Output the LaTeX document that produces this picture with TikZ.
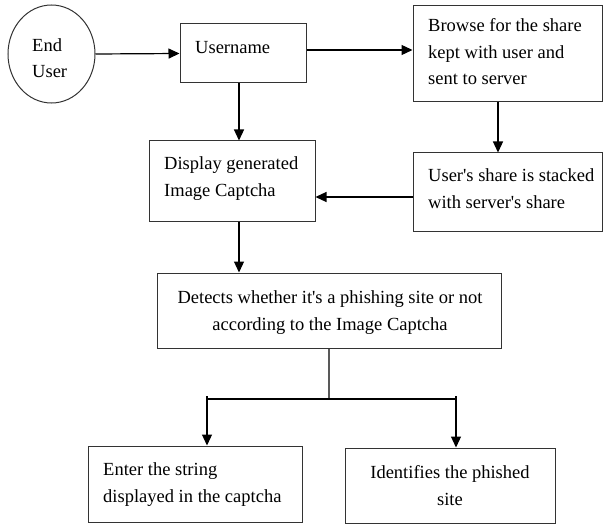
\documentclass[tikz,border=0pt]{standalone}
\usepackage{fontspec}
\setmainfont{Liberation Serif}
\usetikzlibrary{arrows.meta,shapes.geometric}
\newcommand{\apos}{\textquotesingle}
\begin{document}
\begin{tikzpicture}[x=1pt,y=-1pt,
  box/.style={draw=black!80, line width=1pt, inner sep=0pt},
  txt/.style={inner sep=0pt, font=\fontsize{18.5}{26.5}\selectfont},
  flow/.style={line width=1.2pt, -{Triangle[length=11pt,width=10pt]}},
  link/.style={line width=1.1pt, draw=black!65},
]
\useasboundingbox (0,0) rectangle (613,524);

% shapes
\node[box, ellipse, minimum width=87, minimum height=98] (user) at (51.5,54) {};
\node[box, minimum width=126, minimum height=59] (uname)  at (243,53.5) {};
\node[box, minimum width=189, minimum height=96] (browse) at (507.5,54) {};
\node[box, minimum width=166, minimum height=80] (disp)   at (232,181) {};
\node[box, minimum width=189, minimum height=78] (stack)  at (507.5,192) {};
\node[box, minimum width=344, minimum height=75] (detect) at (329,310.5) {};
\node[box, minimum width=214, minimum height=76] (enter)  at (195,484) {};
\node[box, minimum width=210, minimum height=75] (ident)  at (450,485.5) {};

% texts (base anchor = baseline of the last line)
\node[txt, anchor=base west, align=left] (userT) at (32,78) {End\\User};
\node[txt, anchor=base west] (unameT) at (195,54) {Username};
\node[txt, anchor=base west, align=left] (browseT) at (428,85) {Browse for the share\\kept with user and\\sent to server};
\node[txt, anchor=base west, align=left] (dispT) at (164,196) {Display generated\\Image Captcha};
\node[txt, anchor=base west, align=left] (stackT) at (428,208) {User\apos s share is stacked\\with server\apos s share};
\node[txt, anchor=base, align=center] (detectT) at (330,330) {Detects whether it\apos s a phishing site or not\\according to the Image Captcha};
\node[txt, anchor=base west, align=left] (enterT) at (103,502) {Enter the string\\displayed in the captcha};
\node[txt, anchor=base, align=center] (identT) at (450,505) {Identifies the phished\\site};

% connectors
\draw[flow] (user.east) -- (uname.west);
\draw[flow] ([yshift=3.5pt]uname.east) coordinate (a1) -- (a1 -| browse.west);
\draw[flow] ([xshift=-4pt]uname.south) coordinate (a2) -- (a2 |- disp.north);
\draw[flow] ([xshift=-9.5pt]browse.south) coordinate (a3) -- (a3 |- stack.north);
\draw[flow] ([yshift=-5pt]stack.west) coordinate (a4) -- (a4 -| disp.east);
\draw[flow] ([xshift=7pt]disp.south) coordinate (a5) -- (a5 |- detect.north);

\coordinate (jm) at (329,399);
\coordinate (jl) at (207,399);
\coordinate (jr) at (456,399);
\draw[link] (detect.south) -- (jm);
\draw[line width=1.1pt] (jl) -- (jr);
\draw[flow] ([yshift=3pt]jl) -- (jl |- enter.north);
\draw[flow] ([yshift=3pt]jr) -- (jr |- ident.north);
\end{tikzpicture}
\end{document}
